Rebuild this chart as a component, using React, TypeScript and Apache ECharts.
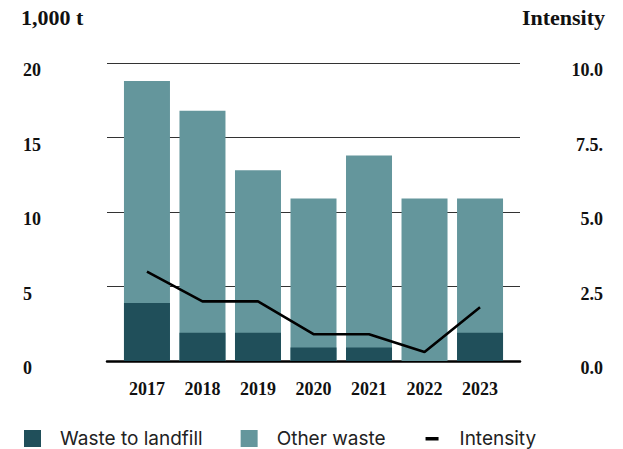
import React, { useEffect, useRef } from "react";
import * as echarts from "echarts";

const years = ["2017", "2018", "2019", "2020", "2021", "2022", "2023"];
const landfill = [3.9, 1.9, 1.9, 0.9, 0.9, 0, 1.9];
const otherWaste = [14.9, 14.9, 10.9, 10.0, 12.9, 10.9, 9.0];
const intensity = [3.0, 2.0, 2.0, 0.9, 0.9, 0.3, 1.8];
const leftTicks = ["0", "5", "10", "15", "20"];
const rightTicks = ["0.0", "2.5", "5.0", "7.5.", "10.0"];

const DARK = "#204f5a";
const LIGHT = "#64969c";
const SERIF = "'Liberation Serif', 'DejaVu Serif', serif";
const SANS = "Inter, 'Noto Sans', sans-serif";

export default function App() {
  const ref = useRef<HTMLDivElement>(null);
  useEffect(() => {
    if (!ref.current) return;
    const chart = echarts.init(ref.current, undefined, { renderer: "svg" });
    const idx = years.map((_, i) => i);
    const axisLabelBase = {
      fontFamily: SERIF,
      fontWeight: "bold" as const,
      fontSize: 18,
      color: "#111",
      verticalAlign: "top" as const,
      lineHeight: 14,
    };
    chart.setOption({
      animation: false,
      backgroundColor: "#fff",
      title: [
        {
          text: "1,000 t",
          left: 21,
          top: 6,
          padding: 0,
          textStyle: { fontFamily: SERIF, fontWeight: "bold", fontSize: 22, color: "#111" },
        },
        {
          text: "Intensity",
          right: 18,
          top: 6,
          padding: 0,
          textStyle: { fontFamily: SERIF, fontWeight: "bold", fontSize: 22, color: "#111" },
        },
      ],
      legend: {
        left: 24,
        top: 429,
        padding: 0,
        itemWidth: 17,
        itemHeight: 17,
        itemGap: 38,
        textStyle: { fontFamily: SANS, fontSize: 19, color: "#222", padding: [0, 0, 0, 14] },
        data: [
          { name: "Waste to landfill", icon: "rect" },
          { name: "Other waste", icon: "rect" },
          {
            name: "Intensity",
            icon: "path://M0,0L17,0L17,0.001Z M2,7H15V10.5H2Z M0,17L17,17L17,16.999Z",
          },
        ],
      },
      grid: {
        left: 107,
        right: 103,
        top: 63,
        bottom: 88,
        containLabel: false,
        outerBoundsMode: "none",
      },
      xAxis: {
        type: "value",
        min: -0.72,
        max: 6.72,
        splitLine: { show: false },
        axisTick: { show: false },
        axisLine: { show: true, onZero: true, lineStyle: { color: "#000", width: 2.5 } },
        axisLabel: {
          customValues: idx,
          formatter: (v: number) => years[Math.round(v)] ?? "",
          fontFamily: SERIF,
          fontWeight: "bold",
          fontSize: 18,
          color: "#111",
          margin: 19,
        },
      },
      yAxis: [
        {
          type: "value",
          min: 0,
          max: 20,
          interval: 5,
          position: "left",
          axisLine: { show: false },
          axisTick: { show: false },
          splitLine: { show: true, lineStyle: { color: "#333", width: 1 } },
          axisLabel: {
            ...axisLabelBase,
            align: "left",
            margin: 84,
            formatter: (v: number) => leftTicks[Math.round(v / 5)] ?? "",
          },
        },
        {
          type: "value",
          min: 0,
          max: 10,
          interval: 2.5,
          position: "right",
          axisLine: { show: false },
          axisTick: { show: false },
          splitLine: { show: false },
          axisLabel: {
            ...axisLabelBase,
            align: "right",
            margin: 83,
            formatter: (v: number) => rightTicks[Math.round(v / 2.5)] ?? "",
          },
        },
      ],
      series: [
        {
          name: "Other waste",
          type: "bar",
          barWidth: 46,
          barGap: "-100%",
          itemStyle: { color: LIGHT },
          data: otherWaste.map((v, i) => [i, v + landfill[i]]),
        },
        {
          name: "Waste to landfill",
          type: "bar",
          barWidth: 46,
          barGap: "-100%",
          z: 3,
          itemStyle: { color: DARK },
          data: landfill.map((v, i) => [i, v]),
        },
        {
          name: "Intensity",
          type: "line",
          yAxisIndex: 1,
          symbol: "none",
          showSymbol: false,
          itemStyle: { color: "#000" },
          lineStyle: { color: "#000", width: 2.6 },
          z: 5,
          data: intensity.map((v, i) => [i, v]),
        },
      ],
    });
    return () => chart.dispose();
  }, []);
  return (
    <div
      ref={ref}
      style={{ position: "absolute", left: 0, top: 0, width: 623, height: 449 }}
    />
  );
}
